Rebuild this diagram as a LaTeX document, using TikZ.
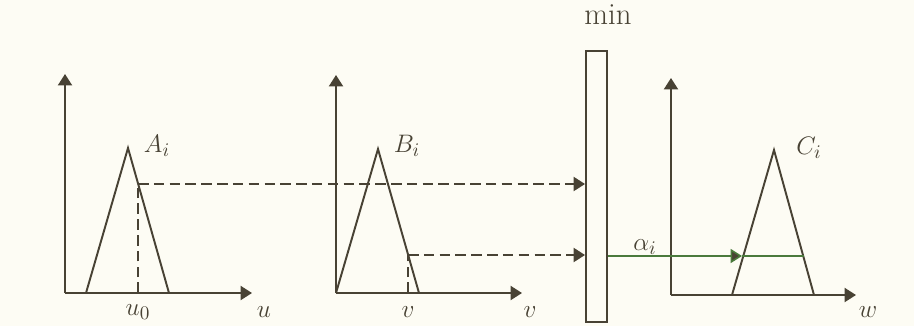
\documentclass[tikz,border=0pt]{standalone}
\usepackage{tikz}
\usetikzlibrary{arrows.meta, positioning, calc}

\definecolor{ink}{RGB}{72,66,52}
\definecolor{cutgreen}{RGB}{74,122,60}
\definecolor{paper}{RGB}{253,252,244}

\begin{document}
\begin{tikzpicture}[x=0.02cm, y=-0.02cm,
  axis/.style={draw=ink, line width=1.1pt, -{Triangle[length=6.5pt, width=8pt]}},
  memb/.style={draw=ink, line width=1.1pt},
  proj/.style={draw=ink, line width=1.1pt, dash pattern=on 6pt off 3pt},
  lbl/.style={text=ink, font=\fontsize{15}{17}\selectfont, inner sep=1pt}
]
  \fill[paper] (0,0) rectangle (914,326);
  \useasboundingbox (0,0) rectangle (914,326);

  % axes
  \coordinate (oa) at (65,293);
  \coordinate (ob) at (336,293);
  \coordinate (oc) at (671,295);
  \draw[axis] (oa) -- (65,74);
  \draw[axis] (oa) -- (252,293);
  \draw[axis] (ob) -- (336,75);
  \draw[axis] (ob) -- (522,293);
  \draw[axis] (oc) -- (671,78);
  \draw[axis] (oc) -- (856,295);

  % triangles
  \coordinate (atop) at (128,148);
  \coordinate (btop) at (378,149);
  \coordinate (ctop) at (774,150);
  \draw[memb] (86,293) -- (atop) -- (169,293);
  \draw[memb] (ob) -- (btop) -- (419,293);
  \draw[memb] (732,295) -- (ctop) -- (814,295);

  % min box
  \node[draw=ink, line width=1.1pt, minimum width=0.42cm, minimum height=5.42cm,
        inner sep=0pt] (minbox) at (596.5,186.5) {};
  \node[lbl, font=\fontsize{17.5}{19}\selectfont] (minlbl) at (608,15) {min};

  % projections
  \coordinate (ua) at (138,293);
  \coordinate (ha) at (138,184);
  \coordinate (vb) at (408,293);
  \coordinate (hb) at (408,255);
  \draw[proj] (ua) -- (ha);
  \draw[proj, -{Triangle[length=6.5pt, width=8pt]}] (ha) -- (minbox.west |- ha);
  \draw[proj] (vb) -- (hb);
  \draw[proj, -{Triangle[length=6.5pt, width=8pt]}] (hb) -- (minbox.west |- hb);

  % cut of C
  \coordinate (cl) at (742,256);
  \coordinate (cr) at (804,256);
  \draw[draw=cutgreen, line width=0.9pt, -{Triangle[length=6.5pt, width=8pt, fill=ink]}]
    (minbox.east |- cl) -- (cl);
  \draw[draw=cutgreen, line width=0.9pt] (cl) -- (cr);

  % labels
  \node[lbl] (alab) at (157,146) {$A_i$};
  \node[lbl] (blab) at (407,146) {$B_i$};
  \node[lbl] (clab) at (809,148) {$C_i$};
  \node[lbl] (alpha) at (645,247) {$\alpha_i$};
  \node[lbl] (u0lab) at (138,312) {$u_0$};
  \node[lbl] (ulab) at (264,312) {$u$};
  \node[lbl] (vplab) at (408,312) {$v$};
  \node[lbl] (vlab) at (530,312) {$v$};
  \node[lbl] (wlab) at (868,312) {$w$};
\end{tikzpicture}
\end{document}
